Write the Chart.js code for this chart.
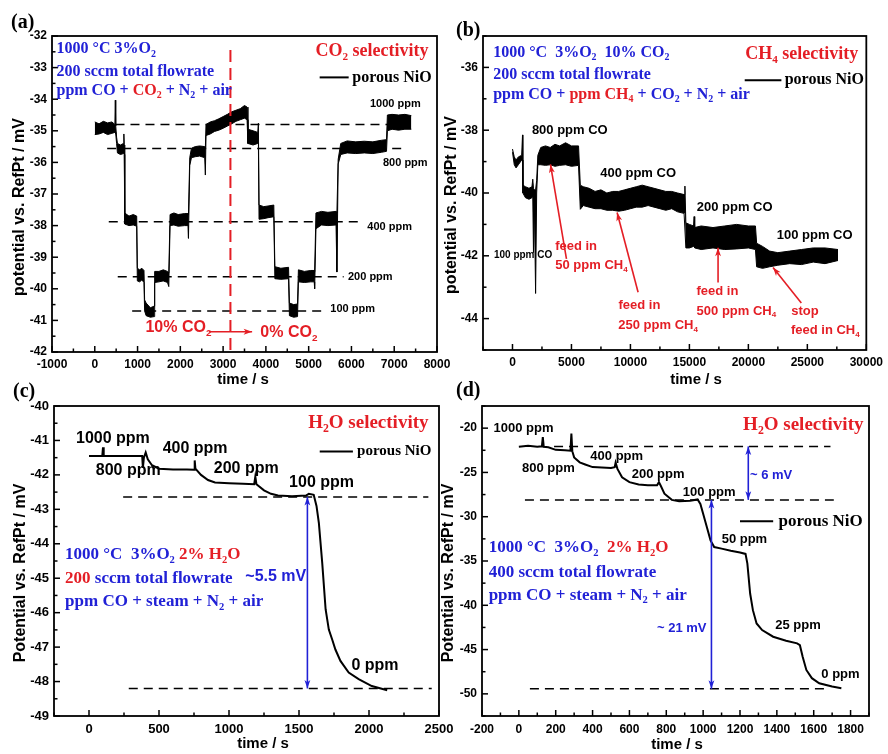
<!DOCTYPE html>
<html>
<head>
<meta charset="utf-8">
<script src="https://cdn.jsdelivr.net/npm/chart.js@4.4.0/dist/chart.umd.min.js"></script>
<style>
html, body { margin: 0; padding: 0; background: #fff; }
#wrap { position: relative; width: 888px; height: 754px; overflow: hidden; }
canvas { position: absolute; left: 0; top: 0; }
</style>
</head>
<body>
<div id="wrap">
  <canvas id="cA" width="888" height="754"></canvas>
  <canvas id="cB" width="888" height="754"></canvas>
  <canvas id="cC" width="888" height="754"></canvas>
  <canvas id="cD" width="888" height="754"></canvas>
</div>
<script>
const BLUE = '#2121d6', RED = '#e41e25';
const SERIF = '"Liberation Serif", "Times New Roman", serif';
const SANS = '"Liberation Sans", Arial, sans-serif';

// (a) CO2 selectivity : noisy trace given as upper / lower edge of the band
const timeA = [0,100,200,300,400,470,480,490,510,530,
  600,670,680,690,700,800,900,980,995,1050,
  1100,1150,1165,1200,1300,1385,1400,1500,1600,1700,
  1730,1760,1850,1950,2100,2180,2190,2220,2260,2350,2450,
  2570,2585,2600,2700,2800,2900,3000,3100,3200,3300,
  3400,3500,3560,3580,3700,3810,3825,3840,3950,4050,
  4185,4210,4350,4530,4550,4650,4740,4760,4900,5050,
  5130,5140,5170,5300,5450,5640,5660,5690,5750,5900,6100,
  6300,6500,6700,6820,6840,6950,7100,7250,7400];
const upperA = [-34.72,-34.78,-34.70,-34.75,-34.72,-34.80,-34.03,-34.85,-35.20,-35.40,
  -35.45,-35.40,-35.10,-35.45,-37.60,-37.70,-37.65,-37.70,-39.35,-39.40,
  -39.35,-39.42,-40.35,-40.45,-40.60,-40.55,-39.45,-39.45,-39.40,-39.45,
  -39.50,-37.65,-37.60,-37.65,-37.62,-37.62,-37.65,-35.85,-35.55,-35.50,-35.48,
  -35.50,-35.55,-34.80,-34.72,-34.68,-34.62,-34.55,-34.48,-34.40,-34.35,
  -34.30,-34.20,-34.25,-34.95,-35.00,-35.05,-34.76,-37.35,-37.40,-37.38,
  -37.35,-39.30,-39.35,-39.32,-40.45,-40.50,-40.48,-39.40,-39.45,-39.42,
  -39.42,-39.45,-37.60,-37.55,-37.58,-37.55,-37.60,-35.90,-35.40,-35.32,-35.35,
  -35.33,-35.35,-35.30,-35.28,-34.50,-34.48,-34.50,-34.48,-34.52];
const lowerA = [-35.12,-35.10,-35.05,-35.12,-35.08,-35.05,-35.05,-35.10,-35.40,-35.70,
  -35.75,-35.72,-35.70,-35.75,-37.95,-38.00,-37.98,-38.02,-39.75,-39.78,
  -39.72,-39.80,-40.70,-40.85,-40.90,-40.88,-39.80,-39.78,-39.75,-39.80,
  -39.93,-38.00,-37.98,-38.02,-38.00,-38.00,-38.40,-36.10,-35.85,-35.82,-35.80,
  -35.85,-36.40,-35.15,-35.10,-35.02,-34.98,-34.92,-34.85,-34.78,-34.70,
  -34.65,-34.60,-34.65,-35.40,-35.45,-35.40,-35.40,-37.80,-37.78,-37.75,
  -37.72,-39.68,-39.70,-39.68,-40.85,-40.90,-40.88,-39.78,-39.80,-39.78,
  -39.78,-40.00,-38.10,-37.98,-38.00,-37.98,-39.47,-36.05,-35.75,-35.70,-35.72,
  -35.70,-35.72,-35.68,-35.65,-35.00,-34.95,-34.98,-34.95,-34.95];
const refLevelA = [-34.8, -35.56, -37.88, -39.62, -40.7];
const refFromA = [484, 290, 327, 537, 874];
const refToA = [7453, 7259, 6285, 5818, 5350];
const switchTimeA = 3171;
const switchSpanA = [-32.44, -42];
const xTicksA = [-1000,0,1000,2000,3000,4000,5000,6000,7000,8000];
const yTicksA = [-42,-41,-40,-39,-38,-37,-36,-35,-34,-33,-32];

// (b) CH4 selectivity
const timeB = [0,150,300,500,780,850,880,1100,1400,1650,1720,1780,1850,1960,2050,2150,
  2400,2800,3200,3600,4000,4500,5000,5600,5750,6000,6500,7000,7500,8000,8500,9000,9500,
  10000,10500,11000,11500,12000,12500,13000,13500,14000,14550,14620,14700,15000,15350,
  15400,15450,16000,17000,18000,19000,20000,20600,20700,21200,21800,22500,23500,24500,
  25500,26500,27600];
const upperB = [-38.60,-38.85,-38.95,-38.85,-38.80,-38.15,-39.75,-39.80,-39.85,-39.80,-39.56,-39.85,-39.90,-39.90,-39.60,-38.80,
  -38.55,-38.50,-38.55,-38.45,-38.50,-38.40,-38.50,-38.50,-39.75,-39.80,-39.85,-39.95,-39.90,-40.00,-39.95,-39.95,-39.90,
  -39.85,-39.80,-39.75,-39.80,-39.85,-39.90,-39.95,-39.95,-40.00,-40.05,-39.78,-40.95,-41.00,-41.05,
  -40.75,-41.10,-41.05,-41.10,-41.05,-41.00,-41.05,-41.05,-41.60,-41.70,-41.85,-41.90,-41.85,-41.80,
  -41.75,-41.75,-41.80];
const lowerB = [-38.70,-39.10,-39.20,-39.10,-38.95,-38.95,-40.00,-40.15,-40.20,-40.15,-40.10,-41.90,-40.20,-43.20,-40.00,-39.10,
  -39.10,-39.12,-39.10,-39.15,-39.12,-39.10,-39.15,-39.12,-40.52,-40.40,-40.45,-40.50,-40.50,-40.55,-40.55,-40.58,-40.55,
  -40.50,-40.45,-40.45,-40.40,-40.45,-40.50,-40.55,-40.50,-40.60,-40.65,-40.65,-41.75,-41.75,-41.70,
  -41.70,-41.75,-41.80,-41.75,-41.80,-41.78,-41.75,-41.80,-42.35,-42.40,-42.35,-42.30,-42.25,-42.28,
  -42.20,-42.25,-42.15];
const xTicksB = [0,5000,10000,15000,20000,25000,30000];
const yTicksB = [-44,-42,-40,-38,-36];

// (c) H2O selectivity, 200 sccm
const timeC = [0,95,100,105,380,385,392,405,420,450,500,600,700,750,755,760,800,850,900,1000,
  1100,1180,1188,1196,1250,1300,1350,1450,1550,1570,1605,1625,1642,1666,1690,1713,1737,1760,
  1796,1855,1926,2020,2130];
const potC = [-41.45,-41.45,-41.2,-41.45,-41.45,-41.8,-41.5,-41.35,-41.55,-41.72,-41.82,-41.84,-41.84,-41.85,-41.58,-41.82,-42.0,-42.15,-42.22,-42.24,
  -42.26,-42.27,-42.05,-42.27,-42.45,-42.55,-42.6,-42.62,-42.6,-42.55,-42.58,-42.9,-43.4,-44.56,-45.9,-46.49,-46.78,-47.07,
  -47.4,-47.74,-47.93,-48.13,-48.25];
const refLevelC = [-42.64, -48.2];
const refFromC = [244, 284];
const refToC = [2424, 2448];
const xTicksC = [0,500,1000,1500,2000,2500];
const yTicksC = [-49,-48,-47,-46,-45,-44,-43,-42,-41,-40];

// (d) H2O selectivity, 400 sccm
const timeD = [0,50,100,125,130,135,160,200,250,280,285,290,300,330,360,400,450,500,520,525,
  535,560,600,650,700,750,760,770,790,830,870,930,970,985,1000,1020,1040,1060,1100,1150,
  1200,1230,1240,1255,1270,1290,1320,1380,1450,1510,1525,1540,1560,1590,1630,1700,1750];
const potD = [-22.1,-22.0,-22.1,-22.05,-21.0,-22.1,-22.15,-22.45,-22.5,-22.55,-20.6,-22.6,-23.3,-23.86,-24.1,-24.4,-24.45,-24.5,-24.4,-23.9,
  -24.6,-25.55,-26.1,-26.37,-26.45,-26.45,-26.1,-26.5,-27.4,-28.1,-28.25,-28.2,-28.05,-28.55,-29.67,-31.17,-32.67,-33.42,-33.6,-33.85,
  -34.05,-34.2,-35.3,-38.67,-40.55,-42.05,-42.8,-43.55,-44.0,-44.3,-44.5,-45.8,-47.3,-48.23,-48.8,-49.17,-49.36];
const refLevelD = [-22.06, -28.1, -49.43];
const refFromD = [191, 33, 60];
const refToD = [1691, 1709, 1664];
const xTicksD = [-200,0,200,400,600,800,1000,1200,1400,1600,1800];
const yTicksD = [-50,-45,-40,-35,-30,-25,-20];

function pts(t, v) { return t.map((x, i) => ({x: x, y: v[i]})); }

function bandSets(t, hi, lo) {
  return [
    {data: pts(t, hi), borderColor: '#000', borderWidth: 1, backgroundColor: '#000', fill: '+1', pointRadius: 0},
    {data: pts(t, lo), borderColor: '#000', borderWidth: 1, fill: false, pointRadius: 0}
  ];
}

function refSets(lv, from, to) {
  return lv.map((y, i) => ({
    data: [{x: from[i], y: y}, {x: to[i], y: y}],
    borderColor: '#000', borderWidth: 1.5, borderDash: [9, 6], pointRadius: 0, fill: false
  }));
}

function minors(sc) {
  const v = sc.ticks.map(t => t.value), out = [];
  if (v.length < 2) return out;
  const st = v[1] - v[0];
  for (let m = v[0] - st / 2; m <= sc.max + 1e-9; m += st) {
    if (m >= sc.min - 1e-9) out.push(m);
  }
  return out;
}

function richText(ctx, x, y, parts, size, family, align) {
  const fs = p => (p[2] ? size * 0.62 : size);
  let w = 0;
  parts.forEach(p => { ctx.font = 'bold ' + fs(p) + 'px ' + family; w += ctx.measureText(p[0]).width; });
  let cx = align === 'right' ? x - w : (align === 'center' ? x - w / 2 : x);
  ctx.textAlign = 'left';
  ctx.textBaseline = 'middle';
  parts.forEach(p => {
    ctx.font = 'bold ' + fs(p) + 'px ' + family;
    ctx.fillStyle = p[1] || '#000';
    ctx.fillText(p[0], cx, y + (p[2] === 'sub' ? size * 0.3 : 0));
    cx += ctx.measureText(p[0]).width;
  });
}

function arrow(ctx, x1, y1, x2, y2, color, both) {
  ctx.strokeStyle = color;
  ctx.fillStyle = color;
  ctx.lineWidth = 1.6;
  ctx.beginPath(); ctx.moveTo(x1, y1); ctx.lineTo(x2, y2); ctx.stroke();
  const head = (xa, ya, xb, yb) => {
    const ang = Math.atan2(yb - ya, xb - xa), h = 9;
    ctx.beginPath();
    ctx.moveTo(xb, yb);
    ctx.lineTo(xb - h * Math.cos(ang - 0.33), yb - h * Math.sin(ang - 0.33));
    ctx.lineTo(xb - h * 0.7 * Math.cos(ang), yb - h * 0.7 * Math.sin(ang));
    ctx.lineTo(xb - h * Math.cos(ang + 0.33), yb - h * Math.sin(ang + 0.33));
    ctx.closePath();
    ctx.fill();
  };
  head(x1, y1, x2, y2);
  if (both) head(x2, y2, x1, y1);
}

function deco(lay, items) {
  return {
    id: 'deco',
    afterDraw(chart) {
      const ctx = chart.ctx, a = chart.chartArea;
      const xs = chart.scales.x, ys = chart.scales.y;
      const px = v => xs.getPixelForValue(v), py = v => ys.getPixelForValue(v);
      ctx.save();
      ctx.strokeStyle = '#000';
      ctx.lineWidth = 1.5;
      const seg = (x1, y1, x2, y2) => { ctx.beginPath(); ctx.moveTo(x1, y1); ctx.lineTo(x2, y2); ctx.stroke(); };
      xs.ticks.forEach(t => { const x = px(t.value); seg(x, a.bottom, x, a.bottom - 6); });
      minors(xs).forEach(m => { const x = px(m); seg(x, a.bottom, x, a.bottom - 3.5); });
      ys.ticks.forEach(t => { const y = py(t.value); seg(a.left, y, a.left + 6, y); });
      minors(ys).forEach(m => { const y = py(m); seg(a.left, y, a.left + 3.5, y); });
      ctx.lineWidth = 1.8;
      ctx.strokeRect(a.left, a.top, a.right - a.left, a.bottom - a.top);

      ctx.fillStyle = '#000';
      ctx.textAlign = 'center';
      ctx.textBaseline = 'middle';
      ctx.font = 'bold 15px ' + SANS;
      ctx.fillText('time / s', lay.xtX, lay.xtY);
      ctx.save();
      ctx.translate(lay.ytX, lay.ytY);
      ctx.rotate(-Math.PI / 2);
      ctx.font = 'bold 16px ' + SANS;
      ctx.fillText(lay.yTitle, 0, 0);
      ctx.restore();
      ctx.textAlign = 'left';
      ctx.font = 'bold 20px ' + SERIF;
      ctx.fillText(lay.tag, lay.tagX, lay.tagY);

      items.forEach(it => {
        if (it.k === 't') {
          richText(ctx, px(it.x), py(it.y), it.p, it.s, it.f, it.a || 'left');
        } else if (it.k === 'a') {
          arrow(ctx, px(it.x1), py(it.y1), px(it.x2), py(it.y2), it.c, it.both);
        } else if (it.k === 'l') {
          ctx.strokeStyle = '#000';
          ctx.lineWidth = 2;
          seg(px(it.x1), py(it.y), px(it.x2), py(it.y));
          richText(ctx, px(it.tx), py(it.y), [[it.text, '#000']], it.s, SERIF, 'left');
        }
      });
      ctx.restore();
    }
  };
}

function makePanel(id, lay, sets, xr, yr, xt, yt, items) {
  const tickFont = {family: SANS, size: lay.tf, weight: 'bold'};
  new Chart(document.getElementById(id), {
    type: 'line',
    data: {datasets: sets},
    options: {
      responsive: false,
      animation: false,
      events: [],
      layout: {padding: {left: lay.L - 40, top: lay.T, right: 888 - lay.R, bottom: 754 - lay.B - 30}},
      plugins: {legend: {display: false}, tooltip: {enabled: false}},
      elements: {line: {tension: 0}},
      scales: {
        x: {
          type: 'linear', min: xr[0], max: xr[1],
          afterBuildTicks: s => { s.ticks = xt.map(v => ({value: v})); },
          afterFit: s => { s.height = 30; },
          grid: {display: false, drawTicks: false},
          border: {display: false},
          ticks: {padding: lay.xp, font: tickFont, color: '#000', maxRotation: 0, autoSkip: false, callback: v => String(v)}
        },
        y: {
          type: 'linear', min: yr[0], max: yr[1],
          afterBuildTicks: s => { s.ticks = yt.map(v => ({value: v})); },
          afterFit: s => { s.width = 40; },
          grid: {display: false, drawTicks: false},
          border: {display: false},
          ticks: {padding: 5, font: tickFont, color: '#000', autoSkip: false, callback: v => String(v)}
        }
      }
    },
    plugins: [deco(lay, items)]
  });
}

// ---- panel (a)
makePanel('cA',
  {L: 52, T: 36, R: 437, B: 352, tf: 12, xp: 5, xtX: 243, xtY: 380, ytX: 20, ytY: 207,
   yTitle: 'potential vs. RefPt / mV', tag: '(a)', tagX: 11, tagY: 23},
  [{data: [{x: switchTimeA, y: switchSpanA[0]}, {x: switchTimeA, y: switchSpanA[1]}],
    borderColor: RED, borderWidth: 2, borderDash: [12, 6], pointRadius: 0, fill: false}]
    .concat(bandSets(timeA, upperA, lowerA), refSets(refLevelA, refFromA, refToA)),
  [-1000, 8000], [-42, -32], xTicksA, yTicksA,
  [
    {k: 't', x: -895, y: -32.42, s: 16, f: SERIF, p: [['1000 °C 3%O', BLUE], ['2', BLUE, 'sub']]},
    {k: 't', x: -895, y: -33.13, s: 16, f: SERIF, p: [['200 sccm total flowrate', BLUE]]},
    {k: 't', x: -895, y: -33.73, s: 16, f: SERIF, p: [['ppm CO + ', BLUE], ['CO', RED], ['2', RED, 'sub'], [' + N', BLUE], ['2', BLUE, 'sub'], [' + air', BLUE]]},
    {k: 't', x: 7800, y: -32.5, s: 18, f: SERIF, a: 'right', p: [['CO', RED], ['2', RED, 'sub'], [' selectivity', RED]]},
    {k: 'l', x1: 5257, x2: 5935, tx: 6021, y: -33.31, s: 16, text: 'porous NiO'},
    {k: 't', x: 7026, y: -34.16, s: 11, f: SANS, a: 'center', p: [['1000 ppm']]},
    {k: 't', x: 7259, y: -36.01, s: 11, f: SANS, a: 'center', p: [['800 ppm']]},
    {k: 't', x: 6893, y: -38.03, s: 11, f: SANS, a: 'center', p: [['400 ppm']]},
    {k: 't', x: 6441, y: -39.62, s: 11, f: SANS, a: 'center', p: [['200 ppm']]},
    {k: 't', x: 6028, y: -40.65, s: 11, f: SANS, a: 'center', p: [['100 ppm']]},
    {k: 't', x: 1185, y: -41.24, s: 16, f: SANS, p: [['10% CO', RED], ['2', RED, 'sub']]},
    {k: 'a', x1: 2664, y1: -41.36, x2: 3678, y2: -41.36, c: RED},
    {k: 't', x: 3871, y: -41.4, s: 16, f: SANS, p: [['0% CO', RED], ['2', RED, 'sub']]}
  ]);

// ---- panel (b)
makePanel('cB',
  {L: 483, T: 36, R: 869, B: 350, tf: 12, xp: 5, xtX: 696, xtY: 380, ytX: 452, ytY: 205,
   yTitle: 'potential vs. RefPt / mV', tag: '(b)', tagX: 456, tagY: 31},
  bandSets(timeB, upperB, lowerB),
  [-2500, 30000], [-45, -35], xTicksB, yTicksB,
  [
    {k: 't', x: -1636, y: -35.54, s: 16, f: SERIF, p: [['1000 °C  3%O', BLUE], ['2', BLUE, 'sub'], ['  10% CO', BLUE], ['2', BLUE, 'sub']]},
    {k: 't', x: -1636, y: -36.23, s: 16, f: SERIF, p: [['200 sccm total flowrate', BLUE]]},
    {k: 't', x: -1636, y: -36.87, s: 16, f: SERIF, p: [['ppm CO + ', BLUE], ['ppm CH', RED], ['4', RED, 'sub'], [' + CO', BLUE], ['2', BLUE, 'sub'], [' + N', BLUE], ['2', BLUE, 'sub'], [' + air', BLUE]]},
    {k: 't', x: 29320, y: -35.6, s: 18, f: SERIF, a: 'right', p: [['CH', RED], ['4', RED, 'sub'], [' selectivity', RED]]},
    {k: 'l', x1: 19690, x2: 22800, tx: 23080, y: -36.41, s: 16, text: 'porous NiO'},
    {k: 't', x: 4860, y: -38.0, s: 13, f: SANS, a: 'center', p: [['800 ppm CO']]},
    {k: 't', x: 10650, y: -39.38, s: 13, f: SANS, a: 'center', p: [['400 ppm CO']]},
    {k: 't', x: 18840, y: -40.47, s: 13, f: SANS, a: 'center', p: [['200 ppm CO']]},
    {k: 't', x: 25620, y: -41.34, s: 13, f: SANS, a: 'center', p: [['100 ppm CO']]},
    {k: 't', x: 900, y: -41.98, s: 10, f: SANS, a: 'center', p: [['100 ppm CO']]},
    {k: 't', x: 5395, y: -41.70, s: 13, f: SANS, a: 'center', p: [['feed in', RED]]},
    {k: 't', x: 6695, y: -42.32, s: 13, f: SANS, a: 'center', p: [['50 ppm CH', RED], ['4', RED, 'sub']]},
    {k: 't', x: 10763, y: -43.59, s: 13, f: SANS, a: 'center', p: [['feed in', RED]]},
    {k: 't', x: 12345, y: -44.22, s: 13, f: SANS, a: 'center', p: [['250 ppm CH', RED], ['4', RED, 'sub']]},
    {k: 't', x: 17373, y: -43.13, s: 13, f: SANS, a: 'center', p: [['feed in', RED]]},
    {k: 't', x: 18983, y: -43.77, s: 13, f: SANS, a: 'center', p: [['500 ppm CH', RED], ['4', RED, 'sub']]},
    {k: 't', x: 24802, y: -43.77, s: 13, f: SANS, a: 'center', p: [['stop', RED]]},
    {k: 't', x: 26525, y: -44.38, s: 13, f: SANS, a: 'center', p: [['feed in CH', RED], ['4', RED, 'sub']]},
    {k: 'a', x1: 4576, y1: -42.1, x2: 3220, y2: -39.09, c: RED},
    {k: 'a', x1: 10650, y1: -43.16, x2: 8870, y2: -40.62, c: RED},
    {k: 'a', x1: 17430, y1: -42.85, x2: 17430, y2: -41.74, c: RED},
    {k: 'a', x1: 24490, y1: -43.5, x2: 22090, y2: -42.37, c: RED}
  ]);

// ---- panel (c)
makePanel('cC',
  {L: 54, T: 406, R: 439, B: 716, tf: 13, xp: 6, xtX: 263, xtY: 744, ytX: 21, ytY: 573,
   yTitle: 'Potential vs. RefPt / mV', tag: '(c)', tagX: 13, tagY: 392},
  [{data: pts(timeC, potC), borderColor: '#000', borderWidth: 2, pointRadius: 0, fill: false}]
    .concat(refSets(refLevelC, refFromC, refToC)),
  [-250, 2500], [-49, -40], xTicksC, yTicksC,
  [
    {k: 't', x: -171, y: -44.32, s: 17, f: SERIF, p: [['1000 °C  3%O', BLUE], ['2', BLUE, 'sub'], [' 2% H', RED], ['2', RED, 'sub'], ['O', RED]]},
    {k: 't', x: -171, y: -45.01, s: 17, f: SERIF, p: [['200', RED], [' sccm total flowrate', BLUE]]},
    {k: 't', x: -171, y: -45.69, s: 17, f: SERIF, p: [['ppm CO + steam + N', BLUE], ['2', BLUE, 'sub'], [' + air', BLUE]]},
    {k: 't', x: 2425, y: -40.5, s: 19, f: SERIF, a: 'right', p: [['H', RED], ['2', RED, 'sub'], ['O selectivity', RED]]},
    {k: 'l', x1: 1648, x2: 1885, tx: 1915, y: -41.32, s: 15, text: 'porous NiO'},
    {k: 't', x: 171, y: -40.94, s: 16, f: SANS, a: 'center', p: [['1000 ppm']]},
    {k: 't', x: 280, y: -41.87, s: 16, f: SANS, a: 'center', p: [['800 ppm']]},
    {k: 't', x: 758, y: -41.25, s: 16, f: SANS, a: 'center', p: [['400 ppm']]},
    {k: 't', x: 1123, y: -41.82, s: 16, f: SANS, a: 'center', p: [['200 ppm']]},
    {k: 't', x: 1661, y: -42.22, s: 16, f: SANS, a: 'center', p: [['100 ppm']]},
    {k: 't', x: 2043, y: -47.53, s: 16, f: SANS, a: 'center', p: [['0 ppm']]},
    {k: 't', x: 1334, y: -44.95, s: 16, f: SANS, a: 'center', p: [['~5.5 mV', BLUE]]},
    {k: 'a', x1: 1560, y1: -48.2, x2: 1560, y2: -42.64, c: BLUE, both: true}
  ]);

// ---- panel (d)
makePanel('cD',
  {L: 482, T: 406, R: 869, B: 716, tf: 12, xp: 6, xtX: 677, xtY: 745, ytX: 449, ytY: 573,
   yTitle: 'Potential vs. RefPt / mV', tag: '(d)', tagX: 456, tagY: 391},
  [{data: pts(timeD, potD), borderColor: '#000', borderWidth: 2, pointRadius: 0, fill: false}]
    .concat(refSets(refLevelD, refFromD, refToD)),
  [-200, 1900], [-52.5, -17.5], xTicksD, yTicksD,
  [
    {k: 't', x: -164, y: -33.5, s: 17, f: SERIF, p: [['1000 °C  3%O', BLUE], ['2', BLUE, 'sub'], ['  2% H', RED], ['2', RED, 'sub'], ['O', RED]]},
    {k: 't', x: -164, y: -36.27, s: 17, f: SERIF, p: [['400 sccm total flowrate', BLUE]]},
    {k: 't', x: -164, y: -38.9, s: 17, f: SERIF, p: [['ppm CO + steam + N', BLUE], ['2', BLUE, 'sub'], [' + air', BLUE]]},
    {k: 't', x: 1870, y: -19.7, s: 19, f: SERIF, a: 'right', p: [['H', RED], ['2', RED, 'sub'], ['O selectivity', RED]]},
    {k: 'l', x1: 1200, x2: 1380, tx: 1409, y: -30.5, s: 17, text: 'porous NiO'},
    {k: 't', x: 25, y: -20.0, s: 13, f: SANS, a: 'center', p: [['1000 ppm']]},
    {k: 't', x: 160, y: -24.5, s: 13, f: SANS, a: 'center', p: [['800 ppm']]},
    {k: 't', x: 531, y: -23.19, s: 13, f: SANS, a: 'center', p: [['400 ppm']]},
    {k: 't', x: 756, y: -25.25, s: 13, f: SANS, a: 'center', p: [['200 ppm']]},
    {k: 't', x: 1033, y: -27.24, s: 13, f: SANS, a: 'center', p: [['100 ppm']]},
    {k: 't', x: 1224, y: -32.56, s: 13, f: SANS, a: 'center', p: [['50 ppm']]},
    {k: 't', x: 1515, y: -42.31, s: 13, f: SANS, a: 'center', p: [['25 ppm']]},
    {k: 't', x: 1745, y: -47.78, s: 13, f: SANS, a: 'center', p: [['0 ppm']]},
    {k: 't', x: 1369, y: -25.36, s: 13, f: SANS, a: 'center', p: [['~ 6 mV', BLUE]]},
    {k: 't', x: 884, y: -42.61, s: 13, f: SANS, a: 'center', p: [['~ 21 mV', BLUE]]},
    {k: 'a', x1: 1245, y1: -28.1, x2: 1245, y2: -22.06, c: BLUE, both: true},
    {k: 'a', x1: 1045, y1: -49.43, x2: 1045, y2: -28.1, c: BLUE, both: true}
  ]);
</script>
</body>
</html>
